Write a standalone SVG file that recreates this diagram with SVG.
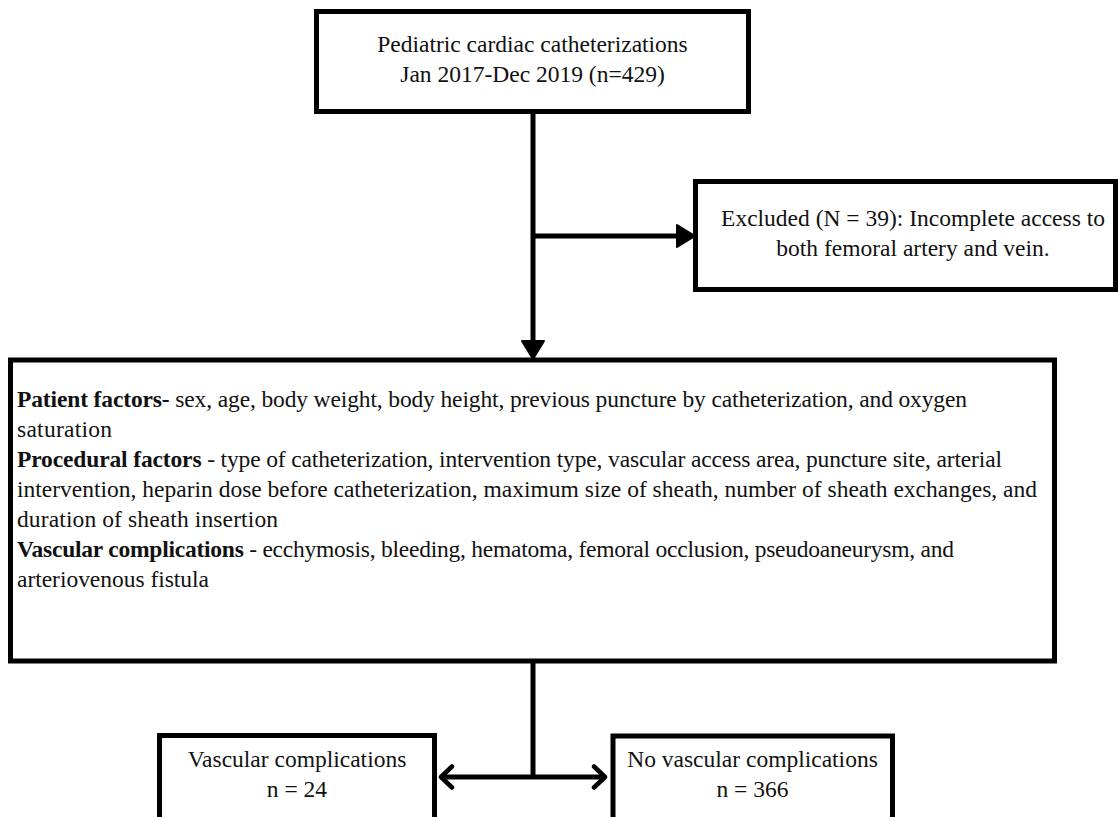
<svg xmlns="http://www.w3.org/2000/svg" width="1118" height="817" viewBox="0 0 1118 817">
<style>
.box{fill:#fff;stroke:#000;stroke-width:5}
.t{font-family:"Liberation Serif","Times New Roman",serif;font-size:23.5px;fill:#111}
.c{text-anchor:middle}
.b{font-weight:bold}
.ln{stroke:#000;stroke-width:5;fill:none}
</style>
<defs>
<marker id="tri" viewBox="0 0 20 24" refX="8" refY="12" markerWidth="20" markerHeight="24" markerUnits="userSpaceOnUse" orient="auto">
<path d="M1,1 L19,12 L1,23 z" fill="#000" stroke="#000" stroke-width="2" stroke-linejoin="round"/>
</marker>
<marker id="chev" viewBox="0 0 18 26" refX="14" refY="13" markerWidth="18" markerHeight="26" markerUnits="userSpaceOnUse" orient="auto-start-reverse">
<path d="M3,2.5 L14,13 L3,23.5" fill="none" stroke="#000" stroke-width="4.5" stroke-linecap="round" stroke-linejoin="round"/>
</marker>
</defs>
<g id="connectors">
<line class="ln" x1="533" y1="113" x2="533" y2="348" marker-end="url(#tri)"/>
<line class="ln" x1="533" y1="236" x2="684" y2="236" marker-end="url(#tri)"/>
<line class="ln" x1="533" y1="661" x2="533" y2="777"/>
<line class="ln" x1="441" y1="777" x2="605" y2="777" marker-start="url(#chev)" marker-end="url(#chev)"/>
</g>
<g id="node-start">
<rect class="box" x="316.5" y="11.5" width="432" height="100"/>
<text class="t c" x="532.5" y="52">Pediatric cardiac catheterizations</text>
<text class="t c" x="532.5" y="82">Jan 2017-Dec 2019 (n=429)</text>
</g>
<g id="node-excluded">
<rect class="box" x="695.5" y="181.5" width="420" height="108"/>
<text class="t c" x="913" y="226">Excluded (N = 39): Incomplete access to</text>
<text class="t c" x="913" y="256">both femoral artery and vein.</text>
</g>
<g id="node-factors">
<rect class="box" x="10.5" y="360" width="1044" height="301"/>
<text class="t" x="17" y="407" textLength="950"><tspan class="b">Patient factors-</tspan> sex, age, body weight, body height, previous puncture by catheterization, and oxygen</text>
<text class="t" x="17" y="437" textLength="95">saturation</text>
<text class="t" x="17" y="467" textLength="985"><tspan class="b">Procedural factors</tspan> - type of catheterization, intervention type, vascular access area, puncture site, arterial</text>
<text class="t" x="17" y="497" textLength="1020">intervention, heparin dose before catheterization, maximum size of sheath, number of sheath exchanges, and</text>
<text class="t" x="17" y="527" textLength="261">duration of sheath insertion</text>
<text class="t" x="17" y="557" textLength="937"><tspan class="b">Vascular complications</tspan> - ecchymosis, bleeding, hematoma, femoral occlusion, pseudoaneurysm, and</text>
<text class="t" x="17" y="587" textLength="192">arteriovenous fistula</text>
</g>
<g id="node-complications">
<rect class="box" x="159.5" y="735.5" width="275" height="100"/>
<text class="t c" x="297" y="767">Vascular complications</text>
<text class="t c" x="297" y="797">n = 24</text>
</g>
<g id="node-no-complications">
<rect class="box" x="613" y="736" width="279.5" height="100"/>
<text class="t c" x="752.5" y="767">No vascular complications</text>
<text class="t c" x="752.5" y="797">n = 366</text>
</g>
</svg>
